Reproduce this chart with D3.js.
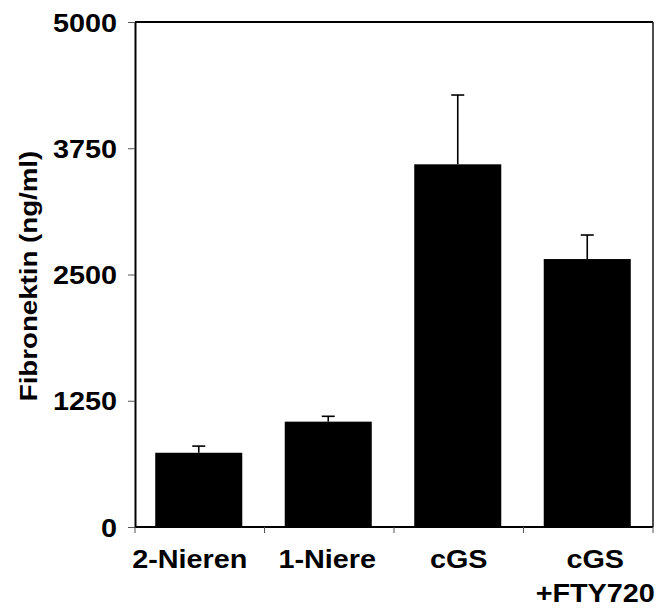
<!DOCTYPE html>
<html>
<head>
<meta charset="utf-8">
<script src="https://cdn.jsdelivr.net/npm/d3@7/dist/d3.min.js"></script>
<style>
  html, body { margin: 0; padding: 0; background: #fff; }
  svg { display: block; }
  text { font-family: "Liberation Sans", Arial, sans-serif; font-weight: bold; fill: #000; }
</style>
</head>
<body>
<svg id="chart" width="658" height="608"></svg>
<script>
// Fibronectin concentration per group (ng/ml), mean and SEM
const groups = ["2-Nieren", "1-Niere", "cGS", "cGS\n+FTY720"];
const means = [735, 1043, 3591, 2653];
const errors = [66, 53, 686, 238];
const yTicks = [0, 1250, 2500, 3750, 5000];
const yTitle = "Fibronektin (ng/ml)";

const W = 658, H = 608;
const plot = { left: 135, right: 653, top: 22, bottom: 527 };
const fontSize = 25.5;
const stretch = 1.13;          // wide lettering
const barFrac = 0.672;         // bar width as share of a category slot
const labelShift = [-10, -2, 0, 7];

const svg = d3.select("#chart");

const x = d3.scaleBand().domain(groups).range([plot.left, plot.right]).padding(0);
const y = d3.scaleLinear().domain([0, 5000]).range([plot.bottom, plot.top]);

const data = groups.map((g, i) => ({ g, v: means[i], e: errors[i], i }));

// bars
const bw = x.bandwidth() * barFrac;
svg.append("g").selectAll("rect").data(data).join("rect")
  .attr("x", d => x(d.g) + x.bandwidth() / 2 - bw / 2 - 1)
  .attr("y", d => y(d.v))
  .attr("width", bw)
  .attr("height", d => y(0) - y(d.v))
  .attr("fill", "#000");

// upper error bars
const eb = svg.append("g").attr("stroke", "#000").attr("stroke-width", 1.6);
data.forEach(d => {
  const cx = x(d.g) + x.bandwidth() / 2 - 1;
  eb.append("line").attr("x1", cx).attr("x2", cx).attr("y1", y(d.v)).attr("y2", y(d.v + d.e));
  eb.append("line").attr("x1", cx - 6.5).attr("x2", cx + 6.5).attr("y1", y(d.v + d.e)).attr("y2", y(d.v + d.e));
});

// frame: top and right edges
svg.append("line").attr("x1", plot.left).attr("x2", plot.right).attr("y1", plot.top).attr("y2", plot.top)
  .attr("stroke", "#000").attr("stroke-width", 2);
svg.append("line").attr("x1", plot.right).attr("x2", plot.right).attr("y1", plot.top).attr("y2", plot.bottom)
  .attr("stroke", "#222").attr("stroke-width", 1.6);

// y axis
const yAxis = svg.append("g").attr("transform", `translate(${plot.left},0)`)
  .call(d3.axisLeft(y).tickValues(yTicks).tickSize(7).tickSizeOuter(0).tickFormat(d3.format("d")));
yAxis.select(".domain").attr("stroke", "#000").attr("stroke-width", 2);
yAxis.selectAll(".tick line").attr("stroke", "#555").attr("stroke-width", 1);
yAxis.selectAll(".tick text")
  .attr("x", null).attr("dy", "0.36em")
  .attr("transform", `translate(-18,0) scale(${stretch},1)`)
  .style("font-size", fontSize + "px").style("font-family", '"Liberation Sans", Arial, sans-serif')
  .style("font-weight", "bold");

// x axis: ticks at category boundaries
const bounds = groups.map(g => x(g)).concat([plot.right]);
const xg = svg.append("g");
xg.append("line").attr("x1", plot.left).attr("x2", plot.right)
  .attr("y1", plot.bottom).attr("y2", plot.bottom).attr("stroke", "#000").attr("stroke-width", 2);
xg.selectAll("line.tk").data(bounds).join("line").attr("class", "tk")
  .attr("x1", d => d).attr("x2", d => d)
  .attr("y1", plot.bottom).attr("y2", plot.bottom + 6)
  .attr("stroke", "#555").attr("stroke-width", 1);

// category labels
data.forEach(d => {
  const lines = d.g.split("\n");
  const cx = x(d.g) + x.bandwidth() / 2 + labelShift[d.i];
  lines.forEach((ln, k) => {
    svg.append("text")
      .attr("transform", `translate(${cx},${568 + k * 33.5}) scale(${stretch},1)`)
      .attr("text-anchor", "middle")
      .style("font-size", fontSize + "px")
      .text(ln);
  });
});

// y title
svg.append("text")
  .attr("transform", `translate(37,${(plot.top + plot.bottom) / 2 + 1.5}) rotate(-90) scale(${stretch},1)`)
  .attr("text-anchor", "middle")
  .style("font-size", (fontSize - 1) + "px")
  .text(yTitle);
</script>
</body>
</html>
